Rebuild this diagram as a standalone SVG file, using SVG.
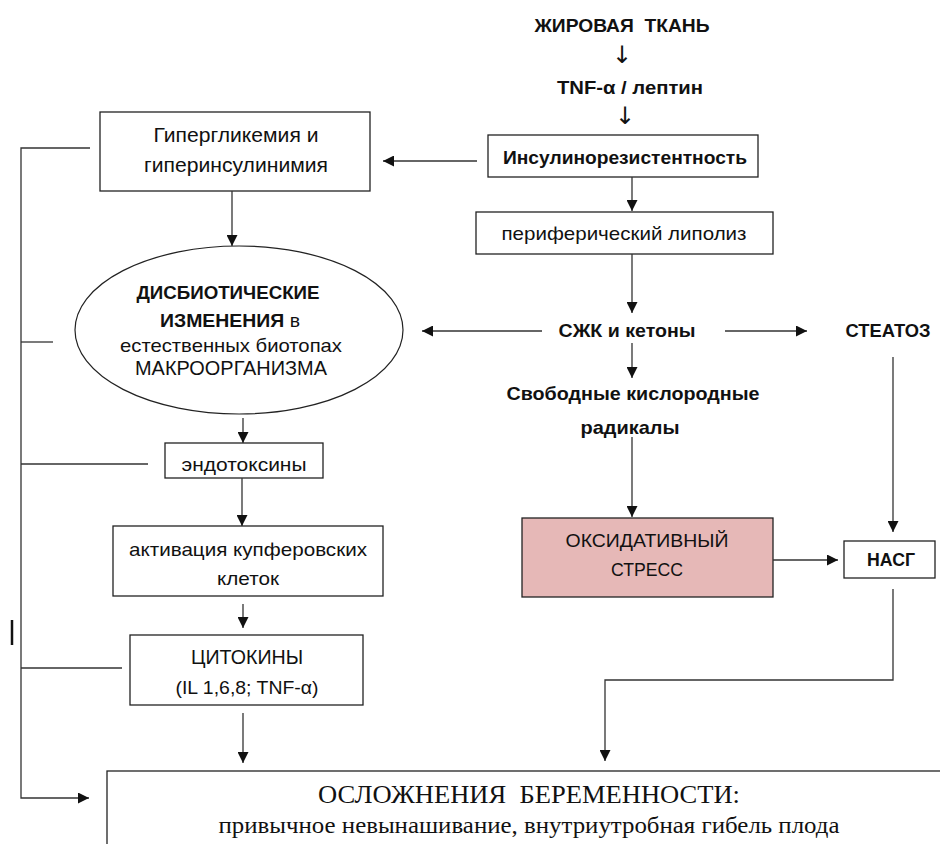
<svg xmlns="http://www.w3.org/2000/svg" width="940" height="844" viewBox="0 0 940 844">
<style>
.t{font-family:"Liberation Sans",Arial,sans-serif;fill:#111;text-anchor:middle;dominant-baseline:central}
.b{font-weight:bold}
.s{font-family:"Liberation Serif","Times New Roman",serif;fill:#111;text-anchor:middle;dominant-baseline:central}
.ar{font-family:"DejaVu Sans",sans-serif;fill:#111;text-anchor:middle;dominant-baseline:central}
.box{fill:#fff;stroke:#222;stroke-width:1.3}
.c{fill:none;stroke:#333;stroke-width:1.3}
</style>
<defs>
<marker id="ah" viewBox="0 0 10 10" refX="10" refY="5" markerUnits="userSpaceOnUse" markerWidth="11" markerHeight="11" orient="auto">
<path d="M0,0 L10,5 L0,10 z" fill="#111"/>
</marker>
</defs>
<rect width="940" height="844" fill="#fff"/>

<g id="fat">
<text class="t b" x="622" y="25" font-size="19" textLength="175" lengthAdjust="spacingAndGlyphs" xml:space="preserve">ЖИРОВАЯ  ТКАНЬ</text>
<text class="ar" x="622" y="55" font-size="24">↓</text>
</g>
<g id="tnf">
<text class="t b" x="630" y="87" font-size="19" textLength="146" lengthAdjust="spacingAndGlyphs">TNF-α / лептин</text>
<text class="ar" x="625" y="116" font-size="24">↓</text>
</g>
<g id="insulin">
<rect class="box" x="488" y="135" width="270" height="42"/>
<text class="t b" x="625" y="157" font-size="19" textLength="244" lengthAdjust="spacingAndGlyphs">Инсулинорезистентность</text>
</g>
<g id="hyper">
<rect class="box" x="100" y="112" width="270" height="79"/>
<text class="t" x="236" y="135" font-size="20" textLength="165" lengthAdjust="spacingAndGlyphs">Гипергликемия и</text>
<text class="t" x="236" y="165" font-size="20" textLength="184" lengthAdjust="spacingAndGlyphs">гиперинсулинимия</text>
</g>
<g id="lipolysis">
<rect class="box" x="476" y="212" width="297" height="42"/>
<text class="t" x="624" y="233" font-size="19" textLength="245" lengthAdjust="spacingAndGlyphs">периферический липолиз</text>
</g>
<g id="dysbiosis">
<ellipse cx="239" cy="330" rx="164" ry="84" fill="#fff" stroke="#222" stroke-width="1.2"/>
<text class="t b" x="228" y="292" font-size="19" textLength="183" lengthAdjust="spacingAndGlyphs">ДИСБИОТИЧЕСКИЕ</text>
<text class="t" x="230" y="320" font-size="19" textLength="140" lengthAdjust="spacingAndGlyphs"><tspan font-weight="bold">ИЗМЕНЕНИЯ</tspan> в</text>
<text class="t" x="231" y="345" font-size="19" textLength="222" lengthAdjust="spacingAndGlyphs">естественных биотопах</text>
<text class="t" x="231" y="368" font-size="20" textLength="192" lengthAdjust="spacingAndGlyphs">МАКРООРГАНИЗМА</text>
</g>
<g id="endotoxins">
<rect class="box" x="165" y="443" width="158" height="35"/>
<text class="t" x="244" y="464" font-size="19" textLength="125" lengthAdjust="spacingAndGlyphs">эндотоксины</text>
</g>
<g id="kupffer">
<rect class="box" x="113" y="526" width="270" height="70"/>
<text class="t" x="248" y="549" font-size="19" textLength="238" lengthAdjust="spacingAndGlyphs">активация купферовских</text>
<text class="t" x="248" y="578" font-size="19" textLength="62" lengthAdjust="spacingAndGlyphs">клеток</text>
</g>
<g id="cytokines">
<rect class="box" x="130" y="635" width="233" height="70"/>
<text class="t" x="247" y="657" font-size="20" textLength="112" lengthAdjust="spacingAndGlyphs">ЦИТОКИНЫ</text>
<text class="t" x="247" y="687" font-size="19" textLength="143" lengthAdjust="spacingAndGlyphs">(IL 1,6,8; TNF-α)</text>
</g>
<g id="ffa">
<text class="t b" x="627" y="331" font-size="18" textLength="137" lengthAdjust="spacingAndGlyphs">СЖК и кетоны</text>
</g>
<g id="steatosis">
<text class="t b" x="888" y="331" font-size="18" textLength="85" lengthAdjust="spacingAndGlyphs">СТЕАТОЗ</text>
</g>
<g id="radicals">
<text class="t b" x="633" y="393" font-size="19" textLength="253" lengthAdjust="spacingAndGlyphs">Свободные кислородные</text>
<text class="t b" x="630" y="427" font-size="19" textLength="99" lengthAdjust="spacingAndGlyphs">радикалы</text>
</g>
<g id="oxidative">
<rect x="522" y="518" width="251" height="79" fill="#e6b8b7" stroke="#222" stroke-width="1.3"/>
<text class="t" x="647" y="540" font-size="19" textLength="163" lengthAdjust="spacingAndGlyphs">ОКСИДАТИВНЫЙ</text>
<text class="t" x="647" y="569" font-size="19" textLength="72" lengthAdjust="spacingAndGlyphs">СТРЕСС</text>
</g>
<g id="nash">
<rect class="box" x="844" y="541" width="91" height="37"/>
<text class="t b" x="891" y="560" font-size="18" textLength="48" lengthAdjust="spacingAndGlyphs">НАСГ</text>
</g>
<g id="complications">
<rect class="box" x="107" y="771" width="840" height="90"/>
<text class="s" x="529" y="794" font-size="25" textLength="422" lengthAdjust="spacingAndGlyphs" xml:space="preserve">ОСЛОЖНЕНИЯ  БЕРЕМЕННОСТИ:</text>
<text class="s" x="529" y="825" font-size="24" textLength="621" lengthAdjust="spacingAndGlyphs">привычное невынашивание, внутриутробная гибель плода</text>
</g>
<g id="mark">
<line x1="12" y1="620" x2="12" y2="645" stroke="#111" stroke-width="2.5"/>
</g>

<g id="connectors">
<line class="c" x1="477" y1="161" x2="383" y2="161" marker-end="url(#ah)"/>
<line class="c" x1="232" y1="191" x2="232" y2="246" marker-end="url(#ah)"/>
<line class="c" x1="243" y1="418" x2="243" y2="443" marker-end="url(#ah)"/>
<line class="c" x1="242" y1="478" x2="242" y2="526" marker-end="url(#ah)"/>
<line class="c" x1="243" y1="604" x2="243" y2="628" marker-end="url(#ah)"/>
<line class="c" x1="243" y1="713" x2="243" y2="763" marker-end="url(#ah)"/>
<polyline class="c" points="90,148 21,148 21,798 89,798" marker-end="url(#ah)"/>
<line class="c" x1="21" y1="342" x2="53" y2="342"/>
<line class="c" x1="21" y1="464" x2="148" y2="464"/>
<line class="c" x1="21" y1="668" x2="122" y2="668"/>
<line class="c" x1="632" y1="177" x2="632" y2="211" marker-end="url(#ah)"/>
<line class="c" x1="632" y1="254" x2="632" y2="313" marker-end="url(#ah)"/>
<line class="c" x1="542" y1="331" x2="422" y2="331" marker-end="url(#ah)"/>
<line class="c" x1="725" y1="331" x2="807" y2="331" marker-end="url(#ah)"/>
<line class="c" x1="632" y1="343" x2="632" y2="378" marker-end="url(#ah)"/>
<line class="c" x1="632" y1="437" x2="632" y2="517" marker-end="url(#ah)"/>
<line class="c" x1="893" y1="357" x2="893" y2="532" marker-end="url(#ah)"/>
<line class="c" x1="773" y1="560" x2="838" y2="560" marker-end="url(#ah)"/>
<polyline class="c" points="893,589 893,680 605,680 605,761" marker-end="url(#ah)"/>
</g>
</svg>
